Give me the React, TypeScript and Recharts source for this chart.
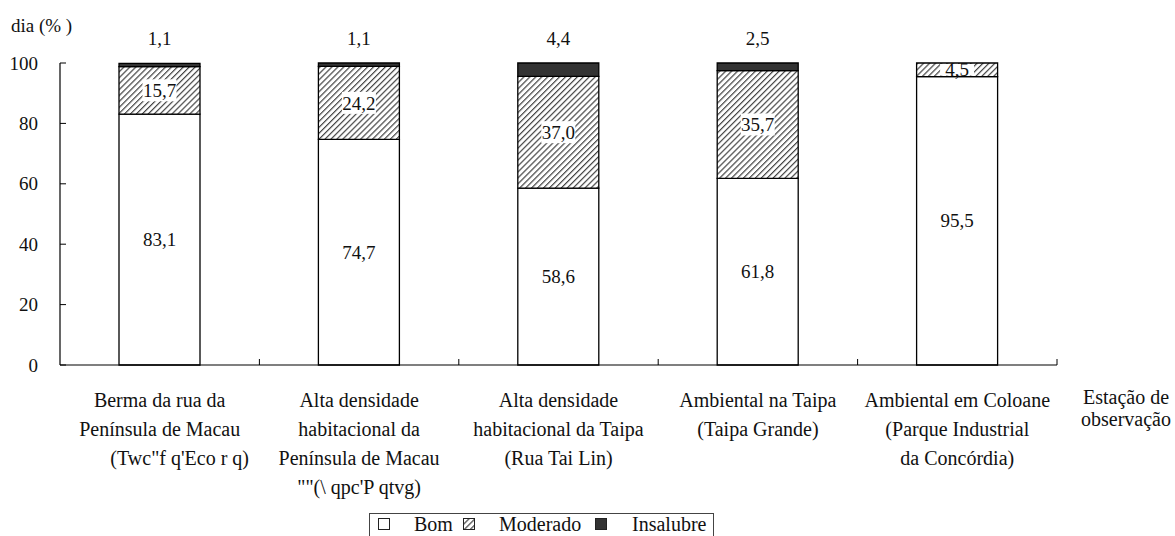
import React from "react";
import { BarChart, Bar, XAxis, YAxis, Legend, LabelList } from "recharts";

const categories = [
  "Berma da rua da\nPenínsula de Macau\n        (Twc\"f q'Eco r q)",
  "Alta densidade\nhabitacional da\nPenínsula de Macau\n\"\"(\\ qpc'P qtvg)",
  "Alta densidade\nhabitacional da Taipa\n(Rua Tai Lin)",
  "Ambiental na Taipa\n(Taipa Grande)",
  "Ambiental em Coloane\n(Parque Industrial\nda Concórdia)",
];
const seriesNames = ["Bom", "Moderado", "Insalubre"];
const bom = [83.1, 74.7, 58.6, 61.8, 95.5];
const moderado = [15.7, 24.2, 37.0, 35.7, 4.5];
const insalubre = [1.1, 1.1, 4.4, 2.5, 0];
const yTicks = [0, 20, 40, 60, 80, 100];

const data = categories.map((name, i) => ({
  name,
  bom: bom[i],
  moderado: moderado[i],
  insalubre: insalubre[i],
}));

const W = 1175;
const H = 536;
const margin = { top: 63, right: 118, left: 0, bottom: 0 };
const yAxisWidth = 60;
const band = (W - yAxisWidth - margin.right) / categories.length;
const font =
  'Liberation Serif, "Times New Roman", Times, Tinos, "Noto Serif", "DejaVu Serif", FreeSerif, "Nimbus Roman", serif';

const fmt = (v: number) => v.toFixed(1).replace(".", ",");

const XTick = (props: any) => {
  const { x, y, payload } = props;
  const lines = String(payload.value).split("\n");
  return (
    <g>
      <line x1={x + band / 2} x2={x + band / 2} y1={y} y2={y - 6} stroke="#000" />
      {lines.map((l: string, i: number) => (
        <text
          key={i}
          x={x}
          y={y + 42 + i * 29}
          textAnchor="middle"
          xmlSpace="preserve"
          fontSize={20}
          fill="#111"
          style={{ whiteSpace: "pre", fontFamily: font }}
        >
          {l}
        </text>
      ))}
    </g>
  );
};

const YTick = (props: any) => {
  const { x, y, payload } = props;
  return (
    <g>
      <line x1={x + 22} x2={x + 28} y1={y} y2={y} stroke="#000" />
      <text x={x} y={y} dy="0.35em" textAnchor="end" fontSize={19} fill="#111" style={{ fontFamily: font }}>
        {payload.value}
      </text>
    </g>
  );
};

const CenterLabel = (props: any) => {
  const { x, y, width, height, value } = props;
  if (!value) return null;
  return (
    <text x={x + width / 2} y={y + height / 2} dy="0.35em" textAnchor="middle" fontSize={19} fill="#111" style={{ fontFamily: font }}>
      {fmt(value)}
    </text>
  );
};

const BoxLabel = (props: any) => {
  const { x, y, width, height, value } = props;
  if (!value) return null;
  const cx = x + width / 2;
  const cy = y + height / 2;
  const bh = Math.min(Math.abs(height) - 2, 22);
  return (
    <g>
      <rect x={cx - 17} y={cy - bh / 2} width={34} height={bh} fill="#fff" />
      <text x={cx} y={cy} dy="0.35em" textAnchor="middle" fontSize={19} fill="#111" style={{ fontFamily: font }}>
        {fmt(value)}
      </text>
    </g>
  );
};

const TopLabel = (props: any) => {
  const { x, y, width, value } = props;
  if (!value) return null;
  return (
    <text x={x + width / 2} y={y - 25} dy="0.35em" textAnchor="middle" fontSize={19} fill="#111" style={{ fontFamily: font }}>
      {fmt(value)}
    </text>
  );
};

const legendSpots = [
  { sq: 8, txt: 44 },
  { sq: 93, txt: 129 },
  { sq: 225, txt: 262 },
];

const LegendBox = (props: any) => {
  const { payload = [] } = props;
  const items = [...payload].sort(
    (a: any, b: any) => seriesNames.indexOf(a.value) - seriesNames.indexOf(b.value)
  );
  return (
    <div
      style={{
        position: "relative",
        width: 343,
        height: 30,
        border: "1px solid #444",
        borderBottom: "none",
        fontFamily: font,
        fontSize: 20,
        color: "#111",
      }}
    >
      {items.map((p: any, i: number) => {
        const spot = legendSpots[i];
        const fill = p.payload && p.payload.fill ? p.payload.fill : p.color;
        return (
          <React.Fragment key={i}>
            <svg width={12} height={12} style={{ position: "absolute", left: spot.sq, top: 4 }}>
              <rect x={0.5} y={0.5} width={11} height={11} fill={fill} stroke="#222" />
            </svg>
            <span style={{ position: "absolute", left: spot.txt, top: -2, lineHeight: "24px" }}>
              {p.value}
            </span>
          </React.Fragment>
        );
      })}
    </div>
  );
};

export default function App() {
  return (
    <div style={{ position: "absolute", left: 0, top: 0, width: W, height: H, background: "#fff", fontFamily: font }}>
      <BarChart width={W} height={H} data={data} margin={margin} style={{ fontFamily: font }}>
        <defs>
          <pattern id="hatch" patternUnits="userSpaceOnUse" width={4.2} height={4.2} patternTransform="rotate(45)">
            <rect width={4.2} height={4.2} fill="#fff" />
            <line x1={0} y1={0} x2={0} y2={4.2} stroke="#444" strokeWidth={2.4} />
          </pattern>
        </defs>
        <XAxis
          dataKey="name"
          height={H - 365}
          interval={0}
          tickLine={false}
          tickSize={0}
          tickMargin={0}
          axisLine={{ stroke: "#000", strokeWidth: 1.2 }}
          tick={<XTick />}
          label={{
            content: () => (
              <g fontSize={20} fill="#111" style={{ fontFamily: font }}>
                <text x={1126} y={404} textAnchor="middle">Estação de</text>
                <text x={1126} y={426} textAnchor="middle">observação</text>
              </g>
            ),
          }}
        />
        <YAxis
          width={yAxisWidth}
          domain={[0, 100]}
          ticks={yTicks}
          interval={0}
          tickLine={false}
          tickSize={0}
          tickMargin={22}
          axisLine={{ stroke: "#000", strokeWidth: 1.2 }}
          tick={<YTick />}
          label={{
            content: () => (
              <text x={11} y={25} dy="0.35em" fontSize={19} fill="#111" style={{ fontFamily: font }}>
                dia (% )
              </text>
            ),
          }}
        />
        <Legend
          layout="horizontal"
          verticalAlign="middle"
          align="center"
          wrapperStyle={{ position: "absolute", left: 369, top: 513, width: 345, height: 30 }}
          content={<LegendBox />}
        />
        <Bar dataKey="bom" name="Bom" stackId="a" barSize={81} fill="#fff" stroke="#000" strokeWidth={1.3} isAnimationActive={false}>
          <LabelList dataKey="bom" content={<CenterLabel />} />
        </Bar>
        <Bar dataKey="moderado" name="Moderado" stackId="a" barSize={81} fill="url(#hatch)" stroke="#000" strokeWidth={1.3} isAnimationActive={false}>
          <LabelList dataKey="moderado" content={<BoxLabel />} />
        </Bar>
        <Bar dataKey="insalubre" name="Insalubre" stackId="a" barSize={81} fill="#333" stroke="#000" strokeWidth={1.3} isAnimationActive={false}>
          <LabelList dataKey="insalubre" content={<TopLabel />} />
        </Bar>
      </BarChart>
    </div>
  );
}
